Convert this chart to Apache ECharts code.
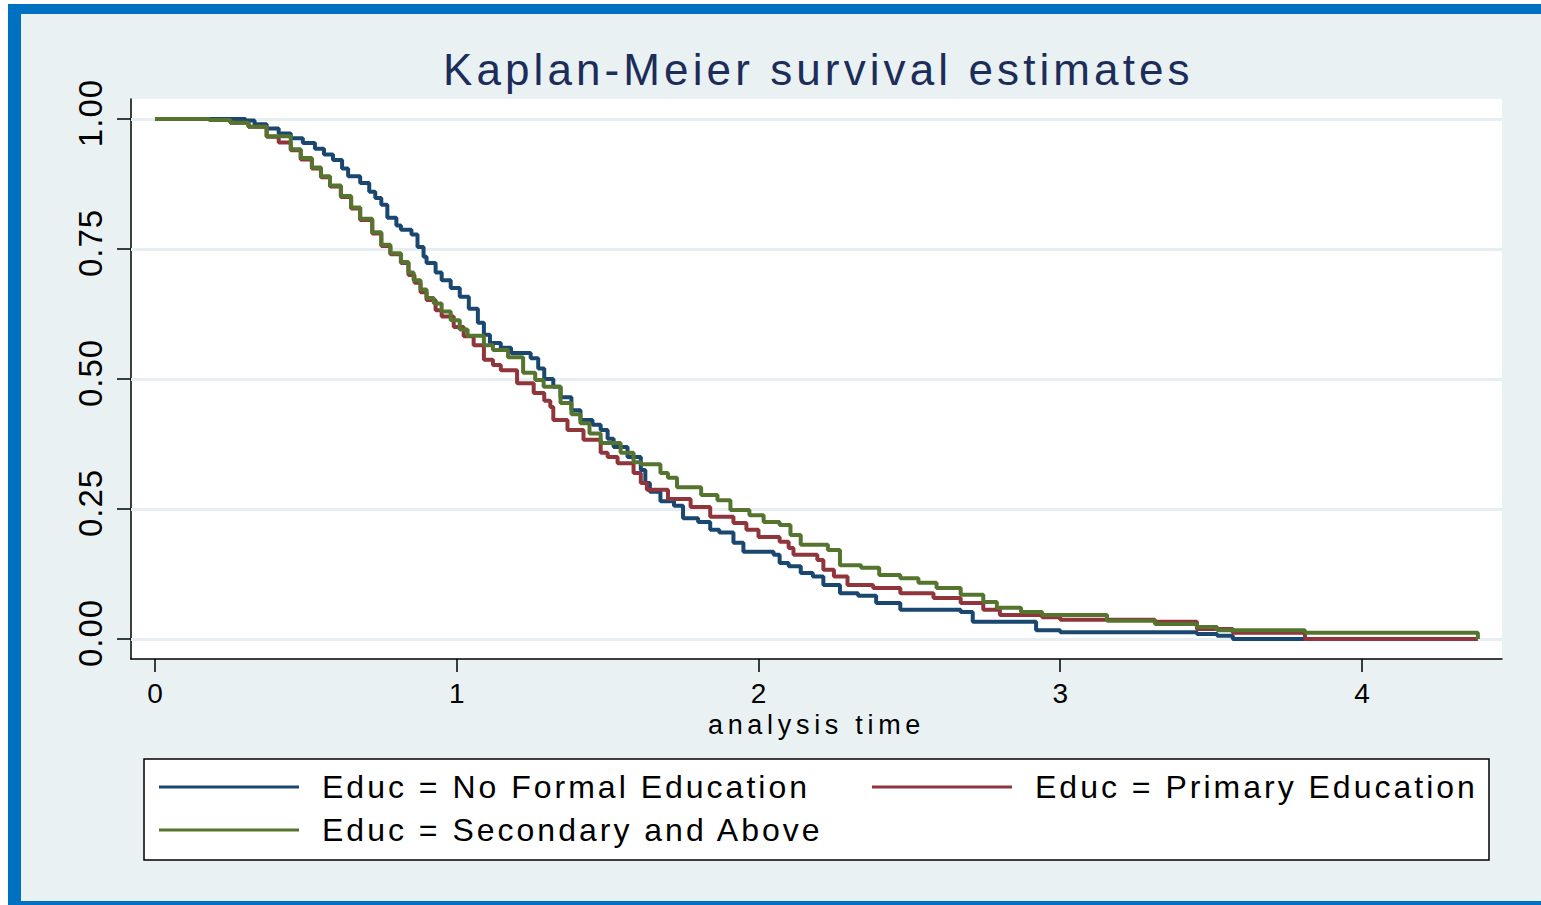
<!DOCTYPE html>
<html><head><meta charset="utf-8">
<script src="https://cdn.jsdelivr.net/npm/echarts@6/dist/echarts.min.js"></script>
<style>html,body{margin:0;padding:0;background:#fff;overflow:hidden}#c{width:1541px;height:905px}</style>
</head><body><div id="c"></div>
<script>
const chartTitle = 'Kaplan-Meier survival estimates';
const xAxisTitle = 'analysis time';
const seriesNames = ['Educ = No Formal Education', 'Educ = Primary Education', 'Educ = Secondary and Above'];
const seriesColors = ['#1a476f', '#90353b', '#55752f'];
const xTickValues = [0, 1, 2, 3, 4];
const yTickValues = [0, 0.25, 0.5, 0.75, 1];

const noFormalTime = [0,0.30,0.33,0.37,0.41,0.45,0.49,0.53,0.56,0.59,0.62,0.64,0.68,0.71,0.73,0.75,0.77,0.80,0.815,0.85,0.87,0.89,0.90,0.93,0.95,0.98,1.01,1.04,1.07,1.09,1.11,1.146,1.18,1.245,1.27,1.29,1.32,1.344,1.38,1.41,1.45,1.477,1.50,1.52,1.566,1.61,1.625,1.64,1.675,1.72,1.75,1.80,1.84,1.87,1.917,1.95,2.05,2.07,2.10,2.14,2.18,2.215,2.27,2.33,2.39,2.47,2.67,2.71,2.92,3.0,3.453,3.52,3.572,3.811];
const noFormalSurv = [1,0.997,0.99,0.982,0.972,0.963,0.954,0.943,0.932,0.921,0.905,0.89,0.877,0.86,0.848,0.835,0.81,0.795,0.787,0.778,0.754,0.735,0.723,0.705,0.69,0.675,0.658,0.635,0.608,0.585,0.569,0.56,0.55,0.54,0.52,0.50,0.485,0.465,0.44,0.421,0.412,0.402,0.385,0.369,0.35,0.325,0.30,0.283,0.265,0.256,0.232,0.225,0.21,0.205,0.185,0.168,0.162,0.146,0.14,0.127,0.12,0.104,0.088,0.083,0.069,0.056,0.052,0.033,0.017,0.013,0.0096,0.006,0,0];

const primaryTime = [0,0.18,0.25,0.31,0.37,0.41,0.45,0.483,0.52,0.55,0.58,0.616,0.65,0.68,0.72,0.75,0.78,0.815,0.84,0.86,0.88,0.90,0.93,0.95,0.99,1.023,1.056,1.09,1.12,1.146,1.2,1.255,1.29,1.31,1.32,1.367,1.42,1.477,1.50,1.533,1.586,1.61,1.63,1.70,1.775,1.84,1.917,1.96,2.0,2.07,2.10,2.116,2.195,2.215,2.25,2.295,2.38,2.47,2.58,2.67,2.745,2.80,2.94,3.0,3.314,3.453,3.572,3.811,4.384];
const primarySurv = [1,0.998,0.993,0.985,0.966,0.955,0.94,0.922,0.905,0.888,0.87,0.85,0.828,0.806,0.78,0.756,0.74,0.723,0.70,0.685,0.667,0.652,0.632,0.62,0.60,0.582,0.565,0.537,0.527,0.517,0.492,0.473,0.458,0.446,0.421,0.402,0.383,0.358,0.35,0.338,0.319,0.30,0.287,0.269,0.254,0.235,0.223,0.21,0.196,0.187,0.175,0.162,0.152,0.133,0.12,0.104,0.098,0.088,0.079,0.069,0.056,0.046,0.042,0.037,0.033,0.019,0.012,0,0];

const secondaryTime = [0,0.18,0.25,0.31,0.37,0.45,0.483,0.52,0.55,0.58,0.616,0.65,0.68,0.72,0.75,0.78,0.815,0.84,0.857,0.88,0.90,0.924,0.95,0.98,1.01,1.036,1.09,1.12,1.17,1.22,1.26,1.288,1.344,1.38,1.41,1.44,1.477,1.543,1.586,1.61,1.675,1.70,1.73,1.81,1.864,1.907,1.97,2.017,2.07,2.106,2.14,2.23,2.27,2.34,2.40,2.47,2.53,2.59,2.67,2.745,2.79,2.87,2.94,3.155,3.314,3.453,3.52,3.811,4.384];
const secondarySurv = [1,0.998,0.993,0.985,0.967,0.942,0.925,0.907,0.89,0.872,0.852,0.83,0.808,0.782,0.758,0.742,0.725,0.705,0.69,0.672,0.656,0.645,0.63,0.613,0.595,0.583,0.565,0.556,0.542,0.512,0.498,0.485,0.454,0.432,0.415,0.395,0.377,0.358,0.34,0.336,0.319,0.31,0.292,0.277,0.267,0.248,0.238,0.225,0.219,0.20,0.181,0.171,0.142,0.137,0.123,0.117,0.108,0.098,0.085,0.071,0.06,0.052,0.046,0.035,0.029,0.023,0.017,0.012,0];

const FONT = "'Liberation Sans', Arial, Helvetica, sans-serif";
const pairs = (t, s) => t.map((v, i) => [v, s[i]]);
const seriesData = [pairs(noFormalTime, noFormalSurv), pairs(primaryTime, primarySurv), pairs(secondaryTime, secondarySurv)];

const chart = echarts.init(document.getElementById('c'), null, {renderer: 'svg'});

const series = seriesData.map((d, i) => ({
  name: seriesNames[i], type: 'line', step: 'end', data: d, symbol: 'none',
  showSymbol: false, z: 3 + i,
  lineStyle: {color: seriesColors[i], width: 4}, itemStyle: {color: seriesColors[i]}
}));
series.push({
  name: 'grid', type: 'line', data: [], z: 1,
  markLine: {silent: true, symbol: 'none', z: 1, label: {show: false},
    lineStyle: {color: '#e6eef1', width: 3, type: 'solid'},
    data: yTickValues.map(v => ({yAxis: v}))}
});

const legendPos = [[154, 766], [867, 766], [154, 809]];

const option = {
  animation: false,
  backgroundColor: '#ffffff',
  title: {text: chartTitle, left: 438, top: 42,
    textStyle: {fontFamily: FONT, fontSize: 44, fontWeight: 'normal', color: '#1c2d5a'}},
  graphic: [
    {type: 'rect', z: -10, silent: true, shape: {x: 8, y: 4, width: 1540, height: 905}, style: {fill: '#0070c0'}},
    {type: 'rect', z: -9, silent: true, shape: {x: 21, y: 14, width: 1530, height: 887}, style: {fill: '#eaf1f3'}},
    {type: 'rect', z: 1, silent: true, shape: {x: 144, y: 759, width: 1345, height: 101}, style: {fill: '#ffffff', stroke: '#000000', lineWidth: 1.5}}
  ],
  legend: seriesNames.map((n, i) => ({
    data: [n], left: legendPos[i][0], top: legendPos[i][1], z: 5,
    icon: 'rect', itemWidth: 140, itemHeight: 3, selectedMode: false,
    textStyle: {fontFamily: FONT, fontSize: 32, color: '#000', padding: [0, 0, 0, 18]}
  })),
  grid: {left: 131, right: 39, top: 99, bottom: 246, show: true, backgroundColor: '#ffffff', borderWidth: 0, containLabel: false},
  xAxis: {
    type: 'value', min: -0.0795, max: 4.464,
    name: xAxisTitle, nameLocation: 'middle', nameGap: 52,
    nameTextStyle: {fontFamily: FONT, fontSize: 27, color: '#000'},
    axisLine: {show: true, onZero: false, lineStyle: {color: '#000', width: 1.5}},
    axisTick: {show: true, customValues: xTickValues, length: 13, lineStyle: {color: '#000', width: 1.5}},
    axisLabel: {customValues: xTickValues, margin: 20, fontFamily: FONT, fontSize: 28, color: '#000'},
    splitLine: {show: false}
  },
  yAxis: {
    type: 'value', min: -0.0385, max: 1.0385,
    axisLine: {show: true, onZero: false, lineStyle: {color: '#000', width: 1.5}},
    axisTick: {show: true, customValues: yTickValues, length: 14, lineStyle: {color: '#000', width: 1.5}},
    axisLabel: {customValues: yTickValues, rotate: 90, margin: 24, fontFamily: FONT, fontSize: 33, color: '#000',
      padding: [0, 0, 0, 12], formatter: v => v.toFixed(2)},
    splitLine: {show: false}
  },
  series: series
};
chart.setOption(option);

function applySpacing() {
  document.querySelectorAll('#c text').forEach(t => {
    const s = t.textContent;
    let ls = null;
    if (s === chartTitle) ls = '4.1px';
    else if (s === xAxisTitle) ls = '4.7px';
    else if (seriesNames.indexOf(s) >= 0) ls = '3px';
    else if (s.indexOf('.') >= 0) ls = '1px';
    if (ls) t.style.letterSpacing = ls;
  });
}
chart.on('finished', applySpacing);
setTimeout(applySpacing, 50);
setTimeout(applySpacing, 300);
</script></body></html>
